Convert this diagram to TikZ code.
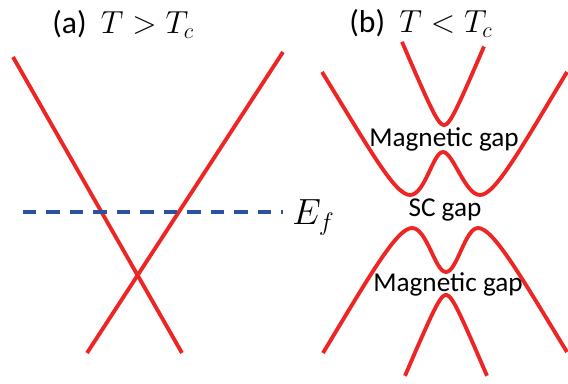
\documentclass[tikz,border=0pt]{standalone}
\usepackage{graphicx}
\usepackage{fontspec}
\setmainfont{Carlito}
\definecolor{bandred}{RGB}{237,37,36}
\definecolor{efblue}{RGB}{42,82,160}
\newcommand{\titlemath}[1]{\scalebox{1.05}{$#1$}}

\begin{document}
\begin{tikzpicture}[
  x=0.02cm, y=-0.02cm,
  band/.style={bandred, line width=2.2pt},
  fermi/.style={efblue, line width=1.9pt, dash pattern=on 0.27cm off 0.2cm},
  title/.style={anchor=base west, inner sep=0pt, font=\fontsize{18}{20}\selectfont},
  gaplabel/.style={anchor=base, inner sep=0pt, font=\fontsize{15.5}{18}\selectfont}
]
\useasboundingbox (0,0) rectangle (568,384);
% (a) normal state: crossing bands
\node[title] (ta) at (52,34) {(a)~~\titlemath{T > T_c}};
\draw[band] (13,57) -- (182,353);
\draw[band] (87,353) -- (283,52);
\draw[fermi] (23,212) -- (283,212);
\node[anchor=base west, inner sep=0pt, font=\fontsize{21}{24}\selectfont] (ef) at (292,225) {$E_f$};
% (b) below Tc: gapped bands
\node[title] (tb) at (349,33) {(b)~~\titlemath{T < T_c}};
\draw[band] plot[domain=402:484, samples=60, smooth] (\x, {143 - sqrt(324 + (2.37*(\x-444))^2)});
\draw[band] (322,72) .. controls (370,150) and (395,195) .. (410,195)
  .. controls (425,195) and (433,152) .. (443,152)
  .. controls (453,152) and (465,195) .. (480,195)
  .. controls (495,195) and (520,150) .. (567,72);
\draw[band] (323,353) .. controls (370,275) and (397,228) .. (412,228)
  .. controls (427,228) and (435,272) .. (446,272)
  .. controls (457,272) and (465,228) .. (478,228)
  .. controls (493,228) and (520,275) .. (567,352);
\draw[band] plot[domain=405:487, samples=60, smooth] (\x, {277 + sqrt(324 + (2.37*(\x-446))^2)});
\node[gaplabel] (mgtop) at (444,147) {Magnetic gap};
\node[gaplabel] (scgap) at (445,217) {SC gap};
\node[gaplabel] (mgbot) at (448,292) {Magnetic gap};
\end{tikzpicture}
\end{document}
